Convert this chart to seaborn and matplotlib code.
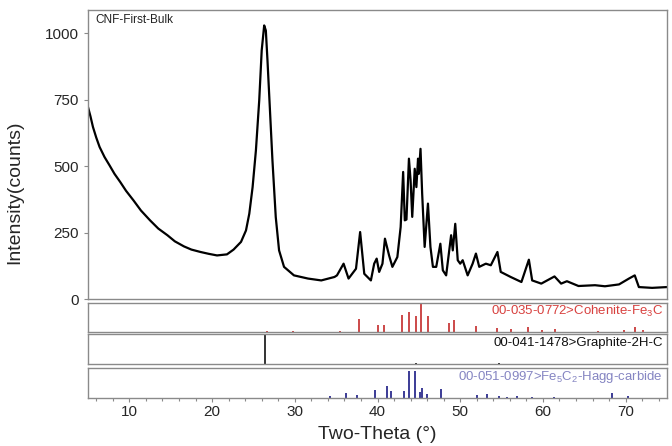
import matplotlib
matplotlib.use("Agg")
import matplotlib.pyplot as plt
import seaborn as sns
import pandas as pd

two_theta = [5.0, 5.3, 5.6, 6.0, 6.4, 7.0, 7.6, 8.2, 8.9, 9.6, 10.5, 11.4, 12.5, 13.5, 14.6,
             15.5, 16.6, 17.5, 18.6, 19.6, 20.6, 21.8, 22.6, 23.5,
             24.1, 24.5, 24.9, 25.3, 25.7, 26.0, 26.3, 26.5, 26.7, 27.0, 27.3, 27.7, 28.1,
             28.7, 29.9, 31.6, 33.2, 34.8, 35.1, 35.9, 36.5, 37.4, 37.9, 38.4, 39.2, 39.6,
             39.9, 40.2, 40.6, 40.9, 41.4, 41.8, 42.4, 42.8, 43.1, 43.3, 43.5, 43.8, 44.0,
             44.2, 44.5, 44.7, 44.9, 45.0, 45.2, 45.4, 45.7, 46.1, 46.4, 46.7, 47.1, 47.6,
             47.9, 48.3, 48.9, 49.1, 49.4, 49.7, 50.0, 50.3, 50.9, 51.5, 51.9, 52.3, 53.1,
             53.7, 54.5, 54.9, 56.1, 57.4, 58.3, 58.7, 59.8, 61.4, 62.2, 62.9, 64.3, 66.3,
             67.5, 69.2, 70.4, 71.1, 71.6, 73.2, 75.0]
intensity = [723, 688, 648, 608, 573, 535, 504, 472, 441, 408, 372, 334, 297, 266, 241,
             218, 199, 187, 178, 171, 165, 169, 187, 216,
             259, 322, 422, 560, 748, 936, 1030, 1011, 898, 710, 522, 309, 184,
             122, 90, 78, 71, 84, 90, 134, 78, 115, 253, 96, 71, 134,
             153, 103, 134, 228, 165, 122, 159, 272, 479, 297, 300, 529, 447,
             310, 491, 422, 529, 472, 566, 397, 197, 360, 197, 122, 122, 209,
             109, 90, 241, 184, 284, 147, 134, 147, 90, 134, 172, 122, 134,
             128, 178, 103, 84, 65, 149, 71, 59, 86, 59, 68, 50, 53,
             49, 56, 78, 90, 46, 43, 46]

# ---- reference stick patterns ----
cohenite_pos = [26.6, 29.8, 35.5, 37.8, 40.0, 40.8, 43.0, 43.85, 44.7, 45.2, 46.1, 48.7, 49.3,
                51.9, 54.5, 56.2, 58.2, 59.9, 61.5, 66.7, 69.8, 71.1, 72.1]
cohenite_int = [3, 2, 3, 44, 24, 24, 59, 67, 56, 100, 53, 32, 41,
                20, 14, 8, 18, 5, 8, 4, 6, 15, 5]
graphite_pos = [26.4, 42.5, 44.6, 50.6, 54.7, 59.8]
graphite_int = [100, 2, 4, 2, 3, 2]
hagg_pos = [34.2, 36.2, 37.5, 39.7, 41.2, 41.6, 43.2, 43.85, 44.5, 45.1, 45.4, 46.0, 47.65,
            52.0, 53.2, 54.65, 55.7, 56.9, 58.7, 61.3, 68.3, 70.25]
hagg_int = [5, 15, 8, 26, 39, 23, 23, 92, 92, 21, 34, 11, 31,
            10, 12, 5, 4, 5, 4, 4, 15, 5]

sample_label = "CNF-First-Bulk"
cohenite_label = "00-035-0772>Cohenite-Fe$_3$C"
graphite_label = "00-041-1478>Graphite-2H-C"
hagg_label = "00-051-0997>Fe$_5$C$_2$-Hagg-carbide"
y_ticks = [0, 250, 500, 750, 1000]
x_ticks = [10, 20, 30, 40, 50, 60, 70]

sns.set_style("ticks")
plt.rcParams["font.family"] = ["Liberation Sans", "DejaVu Sans"]
plt.rcParams["mathtext.fontset"] = "custom"
plt.rcParams["mathtext.rm"] = "Liberation Sans"
plt.rcParams["mathtext.it"] = "Liberation Sans"

frame_col = "#8a8a8a"
W, H = 672, 446
fig = plt.figure(figsize=(W / 100, H / 100), dpi=100)
left = 88 / W
width = (667 - 88) / W

def box(top_px, bot_px):
    return [left, 1 - bot_px / H, width, (bot_px - top_px) / H]

ax = fig.add_axes(box(9.5, 299.3))
ax1 = fig.add_axes(box(302.7, 331.7))
ax2 = fig.add_axes(box(334.3, 364.3))
ax3 = fig.add_axes(box(368.3, 397.7))

df = pd.DataFrame({"two_theta": two_theta, "intensity": intensity})
sns.lineplot(data=df, x="two_theta", y="intensity", ax=ax, color="black", lw=1.6)
ax.set_xlim(5, 75)
ax.set_ylim(0, 1090)
ax.set_yticks(y_ticks)
ax.set_xticks([])
ax.set_xlabel("")
ax.set_ylabel("Intensity(counts)", fontsize=14)
ax.yaxis.set_label_coords(-0.112, 0.37)
ax.tick_params(axis="y", labelsize=11, length=3, width=0.8, color=frame_col)
ax.text(0.012, 0.963, sample_label, transform=ax.transAxes, fontsize=8.5,
        ha="left", va="center", color="#222222")

def sticks(a, pos, val, col, lw, ymax):
    a.vlines(pos, 0, val, colors=col, lw=lw)
    a.set_xlim(5, 75)
    a.set_ylim(0, ymax)
    a.set_yticks([])

sticks(ax1, cohenite_pos, cohenite_int, "#c42a2a", 1.2, 101)
sticks(ax2, graphite_pos, graphite_int, "#111111", 1.2, 100)
sticks(ax3, hagg_pos, hagg_int, "#3b3b96", 1.4, 100)
ax1.text(0.9926, 0.70, cohenite_label, transform=ax1.transAxes, ha="right", va="center",
         fontsize=9.5, color="#d8413f")
ax2.text(0.9926, 0.70, graphite_label, transform=ax2.transAxes, ha="right", va="center",
         fontsize=9.5, color="#111111")
ax3.text(0.9926, 0.70, hagg_label, transform=ax3.transAxes, ha="right", va="center",
         fontsize=9.5, color="#8585c2")

for a in (ax1, ax2):
    a.set_xticks([])
ax3.set_xticks(x_ticks)
ax3.set_xticks(range(6, 76, 2), minor=True)
ax3.tick_params(axis="x", which="major", labelsize=11, length=3, width=0.8, color=frame_col, pad=2)
ax3.tick_params(axis="x", which="minor", length=2, width=0.8, color=frame_col)
ax3.set_xlabel("Two-Theta (°)", fontsize=14, labelpad=5)

for a in (ax, ax1, ax2, ax3):
    for s in a.spines.values():
        s.set_visible(True)
        s.set_color(frame_col)
        s.set_linewidth(1.0)

fig.savefig("out.png", dpi=100)
